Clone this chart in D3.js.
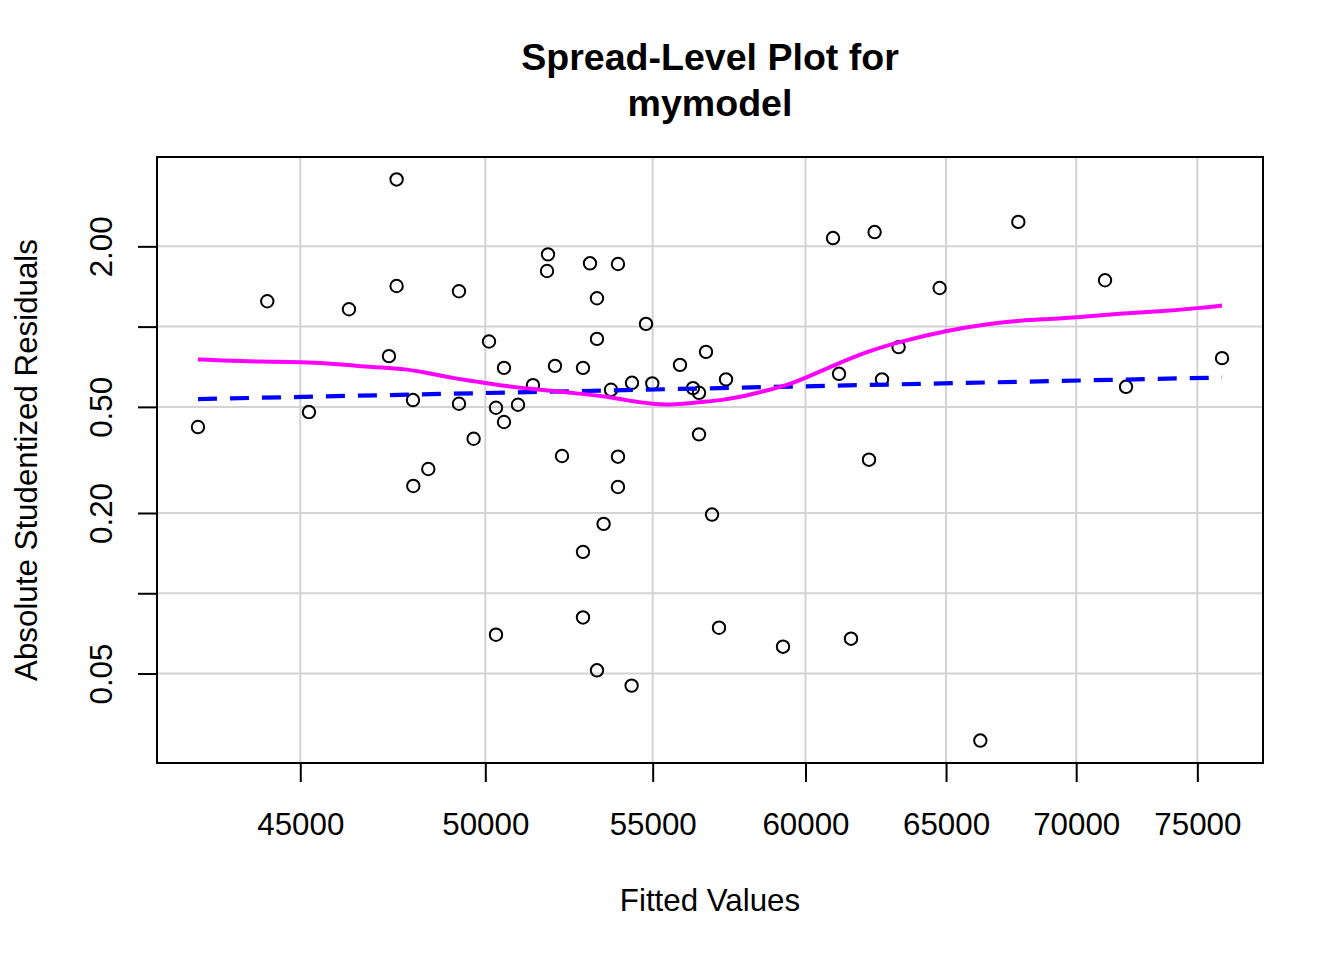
<!DOCTYPE html>
<html>
<head>
<meta charset="utf-8">
<script src="https://cdn.jsdelivr.net/npm/d3@7"></script>
<style>
  html, body { margin: 0; padding: 0; background: #ffffff; }
  svg { display: block; }
  text { font-family: "Liberation Sans", Arial, "DejaVu Sans", sans-serif; fill: #000; }
</style>
</head>
<body>
<svg id="chart" width="1344" height="960"></svg>
<script>
// ---- Data ----
const fittedValues = [
  42453, 44162, 45223, 46265, 47331, 47537, 47537, 47983, 47991, 48403,
  49256, 49256, 49668, 50105, 50305, 50305, 50535, 50535, 50939, 51376,
  51788, 51817, 52024, 52232, 52860, 52860, 52860, 53071, 53283, 53283,
  53283, 53484, 53710, 53924, 53924, 53924, 54356, 54344, 54791, 54988,
  55862, 56277, 56470, 56470, 56696, 56890, 57117, 57345, 59237, 60948,
  61157, 61576, 62210, 62409, 62673, 63268, 64763, 66281, 67731, 71159,
  72015, 76062
];
const absStudResid = [
  0.4201, 1.2449, 0.4781, 1.1619, 0.7749, 3.5637, 1.4204, 0.5303, 0.2526, 0.2925,
  1.3569, 0.5136, 0.3798, 0.8795, 0.4962, 0.06992, 0.7004, 0.4387, 0.5092, 0.6034,
  1.6164, 1.8667, 0.7126, 0.3272, 0.7004, 0.1430, 0.08116, 1.7274, 1.2775, 0.8994,
  0.05141, 0.1821, 0.5795, 1.7170, 0.3252, 0.2504, 0.6155, 0.04506, 1.0236, 0.6123,
  0.7188, 0.5880, 0.5647, 0.3945, 0.8041, 0.1973, 0.07427, 0.6338, 0.06305, 2.1483,
  0.6652, 0.06755, 0.3169, 2.2624, 0.6338, 0.8373, 1.3961, 0.02803, 2.4704, 1.4919,
  0.5946, 0.7616
];

// Robust fit line (log-log), endpoints
const fitLineX = [42453, 76062];
const fitLineY = [0.5349, 0.6443];

// Smoother (loess) curve
const smoothX = [
  42453, 42996, 43994, 45000, 46134, 46838, 47827, 48466, 49209, 49668,
  50621, 51590, 52578, 53588, 54202, 55029, 55659, 56512, 57159, 57814,
  58476, 59372, 60052, 60969, 62140, 63329, 65036, 66535, 67808, 68324,
  70034, 71782, 73436, 75128, 76062
];
const smoothY = [
  0.7531, 0.7467, 0.7377, 0.7377, 0.7213, 0.7047, 0.6945, 0.6652, 0.6371, 0.6246,
  0.5967, 0.5795, 0.5632, 0.5474, 0.5289, 0.5110, 0.5092, 0.5212, 0.5289, 0.5441,
  0.5681, 0.6019, 0.6465, 0.7151, 0.8068, 0.8795, 0.9670, 1.0236, 1.0541, 1.0595,
  1.0817, 1.1196, 1.1391, 1.1750, 1.1996
];

const xTickValues = [45000, 50000, 55000, 60000, 65000, 70000, 75000];
const xTickLabels = ["45000", "50000", "55000", "60000", "65000", "70000", "75000"];
const yTickValues = [0.05, 0.1, 0.2, 0.5, 1, 2];
const yTickLabels = ["0.05", "", "0.20", "0.50", "", "2.00"];

const titleLines = ["Spread-Level Plot for", "mymodel"];
const xTitle = "Fitted Values";
const yTitle = "Absolute Studentized Residuals";

// ---- Layout ----
const W = 1344, H = 960;
const margin = { left: 157, right: 81, top: 157, bottom: 197 };
const plotL = margin.left, plotR = W - margin.right;
const plotT = margin.top, plotB = H - margin.bottom;
const baseFont = 31.3;

function logExpand(ext, f) {
  const a = Math.log(ext[0]), b = Math.log(ext[1]);
  const p = (b - a) * f;
  return [Math.exp(a - p), Math.exp(b + p)];
}

const xScale = d3.scaleLog()
  .domain(logExpand(d3.extent(fittedValues), 0.04))
  .range([plotL, plotR]);
const yScale = d3.scaleLog()
  .domain(logExpand(d3.extent(absStudResid), 0.04))
  .range([plotB, plotT]);

const svg = d3.select("#chart");
svg.append("rect").attr("width", W).attr("height", H).attr("fill", "#fff");

svg.append("defs").append("clipPath").attr("id", "plotclip")
  .append("rect")
  .attr("x", plotL).attr("y", plotT)
  .attr("width", plotR - plotL).attr("height", plotB - plotT);

// Grid
const grid = svg.append("g").attr("stroke", "#d3d3d3").attr("stroke-width", 2);
grid.selectAll("line.gx").data(xTickValues).enter().append("line")
  .attr("x1", d => xScale(d)).attr("x2", d => xScale(d))
  .attr("y1", plotT).attr("y2", plotB);
grid.selectAll("line.gy").data(yTickValues).enter().append("line")
  .attr("x1", plotL).attr("x2", plotR)
  .attr("y1", d => yScale(d)).attr("y2", d => yScale(d));

// Points
const pts = fittedValues.map((x, i) => ({ x, y: absStudResid[i] }));
svg.append("g").attr("clip-path", "url(#plotclip)")
  .selectAll("circle").data(pts).enter().append("circle")
  .attr("cx", d => xScale(d.x)).attr("cy", d => yScale(d.y))
  .attr("r", 6.2).attr("fill", "none").attr("stroke", "#000").attr("stroke-width", 2);

// Fit line (blue dashed)
const lineGen = d3.line().x(d => xScale(d[0])).y(d => yScale(d[1]));
svg.append("path").attr("clip-path", "url(#plotclip)")
  .datum(fitLineX.map((x, i) => [x, fitLineY[i]]))
  .attr("d", lineGen)
  .attr("fill", "none").attr("stroke", "#0000ff").attr("stroke-width", 4.2)
  .attr("stroke-dasharray", "19,13");

// Smoother (magenta)
svg.append("path").attr("clip-path", "url(#plotclip)")
  .datum(smoothX.map((x, i) => [x, smoothY[i]]))
  .attr("d", lineGen.curve(d3.curveBasis))
  .attr("fill", "none").attr("stroke", "#ff00ff").attr("stroke-width", 4)
  .attr("stroke-linejoin", "round");

// Box
svg.append("rect")
  .attr("x", plotL).attr("y", plotT)
  .attr("width", plotR - plotL).attr("height", plotB - plotT)
  .attr("fill", "none").attr("stroke", "#000").attr("stroke-width", 2);

// X axis
const xAxis = d3.axisBottom(xScale)
  .tickValues(xTickValues)
  .tickFormat((d, i) => xTickLabels[i])
  .tickSizeInner(19).tickSizeOuter(0);
const gx = svg.append("g").attr("transform", `translate(0,${plotB})`).call(xAxis);
gx.select(".domain").remove();
gx.selectAll(".tick line").attr("stroke", "#000").attr("stroke-width", 2);
gx.selectAll(".tick text")
  .attr("y", 72).attr("dy", null)
  .style("font-size", baseFont + "px")
  .style("font-family", '"Liberation Sans", Arial, sans-serif')
  .attr("fill", "#000");

// Y axis
const yAxis = d3.axisLeft(yScale)
  .tickValues(yTickValues)
  .tickFormat((d, i) => yTickLabels[i])
  .tickSizeInner(19).tickSizeOuter(0);
const gy = svg.append("g").attr("transform", `translate(${plotL},0)`).call(yAxis);
gy.select(".domain").remove();
gy.selectAll(".tick line").attr("stroke", "#000").attr("stroke-width", 2);
gy.selectAll(".tick text")
  .attr("x", null).attr("dy", null)
  .attr("text-anchor", "middle")
  .attr("transform", "translate(-45,0) rotate(-90)")
  .style("font-size", baseFont + "px")
  .style("font-family", '"Liberation Sans", Arial, sans-serif')
  .attr("fill", "#000");

// Titles
const midX = (plotL + plotR) / 2;
svg.selectAll("text.title").data(titleLines).enter().append("text")
  .attr("class", "title")
  .attr("x", midX).attr("y", (d, i) => 70 + i * 46)
  .attr("text-anchor", "middle")
  .style("font-size", (baseFont * 1.2) + "px")
  .style("font-weight", "bold")
  .text(d => d);

svg.append("text")
  .attr("x", midX).attr("y", 911)
  .attr("text-anchor", "middle")
  .style("font-size", baseFont + "px")
  .text(xTitle);

svg.append("text")
  .attr("transform", `translate(37,${(plotT + plotB) / 2}) rotate(-90)`)
  .attr("text-anchor", "middle")
  .style("font-size", baseFont + "px")
  .text(yTitle);
</script>
</body>
</html>
